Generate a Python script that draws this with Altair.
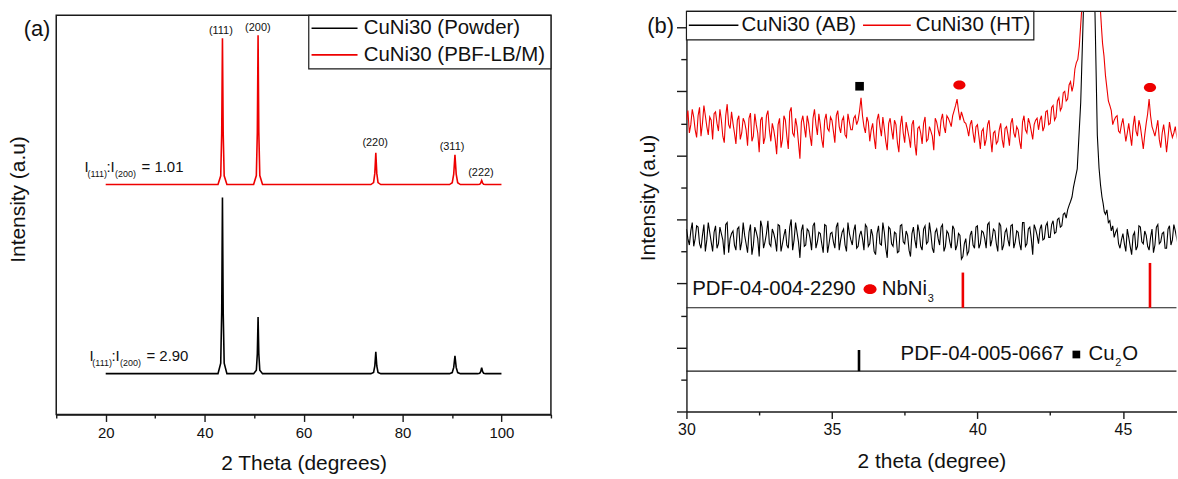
import altair as alt
import pandas as pd

FONT = "Liberation Sans"
BLACK = "#000000"
RED = "#ee0000"
FRAME = "#1a1a1a"
TXT = "#111111"

# ---------------- panel (a): full-range XRD patterns ----------------
a_series = ["CuNi30 (Powder)", "CuNi30 (PBF-LB/M)"]
a_colors = [BLACK, RED]
a_x = [20.0, 42.7, 43.25, 43.45, 43.6, 43.75, 43.95, 44.5,
       49.9, 50.45, 50.65, 50.8, 50.95, 51.15, 51.7,
       73.6, 74.15, 74.4, 74.6, 74.8, 75.05, 75.6,
       89.5, 90.05, 90.35, 90.6, 90.85, 91.15, 91.7,
       95.2, 95.6, 95.8, 96.0, 96.2, 96.4, 96.8, 100.0]
powder_y = [41, 41, 51.6, 103, 218, 103, 51.6, 41,
            41, 44.4, 61, 98, 61, 44.4, 41,
            41, 42.3, 48.7, 63, 48.7, 42.3, 41,
            41, 42.1, 47.3, 59, 47.3, 42.1, 41,
            41, 41.4, 43, 47, 43, 41.4, 41, 41]
pbf_y = [231, 231, 239.8, 282.5, 378, 282.5, 239.8, 231,
         231, 240, 283.5, 381, 283.5, 240, 231,
         231, 232.9, 242.2, 263, 242.2, 232.9, 231,
         231, 232.8, 241.5, 261, 241.5, 232.8, 231,
         231, 231.2, 232.4, 235, 232.4, 231.2, 231, 231]
a_peak_labels = ["(111)", "(200)", "(220)", "(311)", "(222)"]
a_peak_label_x = [43.28, 50.76, 74.47, 90.0, 95.86]
a_peak_label_y = [385, 388, 273, 269, 243]
a_ratio_values = ["= 1.01", "= 2.90"]
a_ratio_x = [15.7, 16.7]
a_ratio_y = [248.3, 59]
a_xticks = [10, 20, 30, 40, 50, 60, 70, 80, 90, 100, 110]

# ---------------- panel (b): zoom 30-47 deg ----------------
b_series = ["CuNi30 (AB)", "CuNi30 (HT)"]
b_colors = [BLACK, RED]
scan_step = 0.1
left_start = 30.0        # grid points 30.00, 30.10, ...
left_mid_start = 30.05   # grid points 30.05, 30.15, ...
right_start = 44.9
right_mid_start = 44.95

ab_left = [2.85, 2.60, 2.95, 2.70, 2.88, 2.55, 2.92, 2.68, 2.80, 2.50,
           2.90, 2.62, 2.78, 2.45, 2.95, 2.70, 2.82, 2.52, 2.88, 2.65,
           2.75, 2.48, 2.92, 2.60, 2.80, 2.42, 2.88, 2.65, 2.98, 2.58,
           2.78, 2.50, 2.90, 2.62, 2.85, 2.55, 3.00, 2.68, 2.80, 2.40,
           2.92, 2.60, 2.82, 2.52, 2.95, 2.65, 2.78, 2.48, 2.90, 2.62,
           2.80, 2.55, 2.95, 2.68, 2.85, 2.50, 2.78, 2.60, 2.92, 2.58,
           2.82, 2.52, 2.88, 2.62, 2.75, 2.45, 2.90, 2.60, 2.80, 2.40,
           2.85, 2.58, 2.78, 2.50, 2.92, 2.62, 2.75, 2.42, 2.88, 2.55,
           2.80, 2.52, 2.90, 2.65, 2.78, 2.48, 2.85, 2.60, 2.92, 2.58,
           2.78, 2.55, 2.85, 2.60, 2.75, 2.42, 2.70, 2.50, 2.82, 2.55,
           2.90, 2.62, 2.80, 2.55, 2.95, 2.68, 2.82, 2.50, 2.90, 2.60,
           2.85, 2.58, 2.92, 2.65, 2.80, 2.52, 2.95, 2.62, 2.88, 2.45,
           2.85]
ab_left_mid = [2.70, 2.82, 2.58, 2.90, 2.62, 2.75, 2.50, 2.95, 2.65, 2.80,
               2.55, 2.88, 2.68, 2.92, 2.48, 2.78, 2.60, 2.85, 2.52, 2.95,
               2.62, 2.80, 2.45, 2.88, 2.70, 2.98, 2.55, 2.78, 2.62, 2.85,
               2.68, 2.92, 2.50, 2.75, 2.60, 2.88, 2.52, 2.95, 2.65, 2.82,
               2.58, 2.85, 2.70, 2.90, 2.55, 2.80, 2.62, 2.92, 2.48, 2.78,
               2.65, 2.88, 2.52, 2.80, 2.60, 2.95, 2.68, 2.82, 2.55, 2.75,
               2.70, 2.92, 2.58, 2.85, 2.50, 2.78, 2.62, 2.95, 2.55, 2.88,
               2.62, 2.80, 2.48, 2.90, 2.65, 2.82, 2.52, 2.78, 2.68, 2.92,
               2.58, 2.85, 2.62, 2.95, 2.55, 2.80, 2.70, 2.88, 2.50, 2.82,
               2.65, 2.90, 2.52, 2.78, 2.38, 2.62, 2.45, 2.75, 2.60, 2.88,
               2.55, 2.82, 2.70, 2.92, 2.58, 2.85, 2.62, 2.95, 2.52, 2.80,
               2.68, 2.90, 2.55, 2.82, 2.62, 2.95, 2.58, 2.85, 2.70, 2.92]
ab_peak_x = [42.05, 42.1, 42.15, 42.2, 42.25, 42.3, 42.35, 42.4, 42.45, 42.5,
             42.55, 42.6, 42.65, 42.7, 42.75, 42.8, 42.85, 42.9, 42.95, 43.0,
             43.05, 43.1, 43.15, 43.2, 43.25, 43.3, 43.43, 43.55, 43.64, 43.75,
             43.85, 43.95, 44.04, 44.12, 44.18, 44.23, 44.28, 44.32, 44.36, 44.4,
             44.45, 44.5, 44.55, 44.6, 44.65, 44.7, 44.75, 44.8, 44.85]
ab_peak_y = [2.75, 2.62, 2.85, 2.92, 2.68, 2.70, 2.90, 2.95, 2.72, 2.72,
             2.92, 2.98, 2.78, 2.80, 3.00, 3.02, 2.88, 2.90, 3.08, 3.10,
             3.02, 3.15, 3.22, 3.28, 3.35, 3.50, 3.79, 4.83, 6.23, 8.5,
             10.0, 8.5, 6.23, 4.32, 3.80, 3.54, 3.35, 3.25, 3.12, 3.08,
             3.15, 2.95, 2.98, 2.82, 2.90, 2.72, 2.80, 2.85, 2.62]
ab_right = [2.55, 2.78, 2.50, 2.72, 2.45, 2.80, 2.58, 2.88, 2.62, 2.75,
            2.52, 2.85, 2.60, 2.92, 2.65, 2.80, 2.55, 2.90, 2.68, 2.82, 2.60]
ab_right_mid = [2.68, 2.62, 2.85, 2.58, 2.75, 2.52, 2.90, 2.65, 2.82, 2.58,
                2.72, 2.48, 2.88, 2.62, 2.78, 2.55, 2.85, 2.60, 2.92, 2.70]

ht_left = [4.55, 4.35, 4.72, 4.40, 4.62, 4.30, 4.78, 4.45, 4.60, 4.25,
           4.68, 4.38, 4.55, 4.20, 4.80, 4.42, 4.50, 4.18, 4.62, 4.35,
           4.52, 4.15, 4.66, 4.30, 4.48, 4.05, 4.60, 4.28, 4.70, 4.22,
           4.40, 4.02, 4.58, 4.25, 4.55, 4.10, 4.75, 4.30, 4.45, 3.95,
           4.62, 4.28, 4.50, 4.15, 4.72, 4.32, 4.48, 4.12, 4.65, 4.38,
           4.55, 4.20, 4.70, 4.35, 4.60, 4.28, 4.52, 4.40, 4.62, 4.55,
           4.90, 4.45, 4.60, 4.22, 4.50, 4.10, 4.65, 4.30, 4.42, 4.08,
           4.58, 4.25, 4.48, 4.05, 4.62, 4.20, 4.40, 4.12, 4.55, 4.00,
           4.45, 4.18, 4.60, 4.25, 4.38, 4.08, 4.52, 4.30, 4.65, 4.35,
           4.58, 4.45, 4.70, 4.88, 4.55, 4.60, 4.50, 4.30, 4.55, 4.20,
           4.48, 4.10, 4.42, 4.25, 4.55, 4.05, 4.38, 4.22, 4.50, 4.12,
           4.45, 4.15, 4.58, 4.28, 4.40, 4.10, 4.62, 4.35, 4.50, 4.25,
           4.55]
ht_left_mid = [4.70, 4.48, 4.60, 4.28, 4.75, 4.50, 4.62, 4.32, 4.55, 4.65,
               4.50, 4.72, 4.30, 4.62, 4.48, 4.68, 4.35, 4.55, 4.25, 4.58,
               4.40, 4.58, 4.22, 4.65, 4.35, 4.55, 4.18, 4.62, 4.40, 4.50,
               4.25, 4.48, 4.12, 4.62, 4.30, 4.68, 4.35, 4.58, 4.20, 4.52,
               4.45, 4.62, 4.30, 4.58, 4.48, 4.65, 4.25, 4.55, 4.42, 4.60,
               4.38, 4.62, 4.45, 4.55, 4.32, 4.65, 4.40, 4.58, 4.48, 4.70,
               4.62, 4.35, 4.52, 4.40, 4.28, 4.55, 4.45, 4.60, 4.22, 4.50,
               4.40, 4.55, 4.20, 4.45, 4.35, 4.52, 4.28, 4.48, 4.18, 4.42,
               4.35, 4.50, 4.22, 4.45, 4.30, 4.58, 4.40, 4.55, 4.45, 4.62,
               4.52, 4.62, 4.78, 4.70, 4.68, 4.52, 4.42, 4.48, 4.35, 4.45,
               4.30, 4.38, 4.15, 4.48, 4.28, 4.35, 4.18, 4.40, 4.25, 4.42,
               4.32, 4.50, 4.35, 4.45, 4.22, 4.52, 4.40, 4.58, 4.38, 4.48]
ht_peak_x = [42.05, 42.1, 42.15, 42.2, 42.25, 42.3, 42.35, 42.4, 42.45, 42.5,
             42.55, 42.6, 42.65, 42.7, 42.75, 42.8, 42.85, 42.9, 42.95, 43.0,
             43.05, 43.1, 43.15, 43.2, 43.25, 43.3, 43.35, 43.4, 43.45, 43.5,
             43.58, 43.7, 43.9, 44.1, 44.23, 44.27, 44.3, 44.35, 44.4, 44.45,
             44.5, 44.55, 44.6, 44.65, 44.7, 44.75, 44.8, 44.85]
ht_peak_y = [4.58, 4.40, 4.55, 4.62, 4.38, 4.45, 4.68, 4.70, 4.48, 4.50,
             4.75, 4.78, 4.55, 4.60, 4.85, 4.90, 4.70, 4.75, 4.98, 5.00,
             4.85, 4.88, 5.10, 5.15, 5.00, 5.10, 5.35, 5.45, 5.50, 5.70,
             6.25, 7.60, 9.50, 7.50, 6.25, 5.95, 5.75, 5.55, 5.25, 5.05,
             4.85, 4.78, 4.70, 4.48, 4.55, 4.60, 4.62, 4.38]
ht_right = [4.35, 4.58, 4.22, 4.50, 4.15, 4.62, 4.30, 4.45, 4.10, 4.50,
            4.88, 4.45, 4.30, 4.55, 4.12, 4.48, 4.05, 4.52, 4.28, 4.45, 4.20]
ht_right_mid = [4.48, 4.40, 4.35, 4.32, 4.45, 4.38, 4.55, 4.28, 4.32, 4.65,
                4.62, 4.38, 4.42, 4.25, 4.35, 4.30, 4.28, 4.38, 4.35, 4.30]

# reference patterns
nbni3_base = 1.62
nbni3_x = [39.5, 45.93]
nbni3_top = [2.17, 2.32]
cu2o_base = 0.63
cu2o_x = [35.93]
cu2o_top = [0.96]
# phase markers above the HT pattern
cu2o_mark_x = [35.95]
cu2o_mark_y = [5.08]
nbni3_mark_x = [39.38, 45.93]
nbni3_mark_y = [5.10, 5.06]
# reference labels
b_text = ["PDF-04-004-2290", "NbNi", "PDF-04-005-0667", "Cu", "O"]
b_text_x = [30.2, 36.71, 37.36, 43.82, 44.98]
b_text_y = [1.91, 1.91, 0.89, 0.89, 0.89]
b_sub = ["3", "2"]
b_sub_x = [38.29, 44.74]
b_sub_y = [1.76, 0.75]
b_dot_x = [36.31]
b_dot_y = [1.91]
b_sq_x = [43.40]
b_sq_y = [0.89]
b_xticks = [30, 32.5, 35, 37.5, 40, 42.5, 45]
b_yticks = [0, 0.5, 1, 1.5, 2, 2.5, 3, 3.5, 4, 4.5, 5, 5.5, 6]

ELLIPSE = "M-1,0A1,0.75,0,1,1,1,0A1,0.75,0,1,1,-1,0Z"
one = pd.DataFrame({"k": [0]})

# ================= panel (a) =================
W_A, H_A = 497, 405
FR_TOP = 4  # frame top sits 4px below the panel's top edge
df_a = pd.concat([
    pd.DataFrame({"x": a_x, "y": powder_y, "series": a_series[0]}),
    pd.DataFrame({"x": a_x, "y": pbf_y, "series": a_series[1]}),
])
axis_xa = alt.Axis(
    values=a_xticks,
    labelExpr="datum.value % 20 == 0 && datum.value >= 20 && datum.value <= 100 ? datum.label : ''",
    tickSize={"condition": {"test": "datum.value % 20 == 0", "value": 7}, "value": 3.5},
    tickColor=FRAME, tickWidth=1.4, domainColor=FRAME, domainWidth=1.4,
    labelFontSize=15, labelColor=TXT, labelPadding=4, labelFlush=False, labelOverlap=False,
    title="2 Theta (degrees)", titleFontSize=21, titleFontWeight="normal",
    titleColor=TXT, titlePadding=12, grid=False)
axis_ya = alt.Axis(
    labels=False, ticks=False, domain=False, grid=False,
    title="Intensity (a.u)", titleFontSize=21, titleFontWeight="normal", titleColor=TXT,
    titleX=-38.3, titleY=188.5, titleBaseline="middle", titleAlign="center")
sx_a = alt.Scale(domain=[10, 110], nice=False, zero=False)
sy_a = alt.Scale(domain=[0, H_A], nice=False, zero=False)


def xa(f):
    return alt.X(f, type="quantitative", scale=sx_a, axis=axis_xa)


def ya(f):
    return alt.Y(f, type="quantitative", scale=sy_a, axis=axis_ya)


frame_a = alt.Chart(one).mark_rect(fill="white", stroke=FRAME, strokeWidth=1.5).encode(
    x=alt.value(0), x2=alt.value(W_A), y=alt.value(FR_TOP), y2=alt.value(H_A))
lines_a = alt.Chart(df_a).mark_line(strokeWidth=1.6, clip=True).encode(
    x=xa("x"), y=ya("y"),
    color=alt.Color("series:N", scale=alt.Scale(domain=a_series, range=a_colors), legend=None),
)
df_pl = pd.DataFrame({"x": a_peak_label_x, "y": a_peak_label_y, "t": a_peak_labels})
peak_labels = alt.Chart(df_pl).mark_text(fontSize=11, color=TXT, baseline="middle", align="center").encode(
    x=xa("x"), y=ya("y"), text="t:N")

df_ratio = pd.DataFrame({"x": a_ratio_x, "y": a_ratio_y, "v": a_ratio_values})
ratio_layers = []
for txt, dx, dy, fs in [("I", 0, 0, 15), ("(111)", 3, 7, 9), (":I", 22.1, 0, 15), ("(200)", 30.8, 7, 9)]:
    ratio_layers.append(
        alt.Chart(df_ratio).mark_text(text=txt, dx=dx, dy=dy, fontSize=fs, align="left",
                                      baseline="middle", color=TXT).encode(x=xa("x"), y=ya("y")))
ratio_layers.append(
    alt.Chart(df_ratio).mark_text(dx=57.4, fontSize=15, align="left", baseline="middle", color=TXT)
    .encode(x=xa("x"), y=ya("y"), text="v:N"))

label_a = alt.Chart(one).mark_text(text="(a)", fontSize=22, align="center", baseline="middle", color=TXT).encode(
    x=alt.value(-19.3), y=alt.value(FR_TOP + 13.7))

leg_a = [alt.Chart(one).mark_rect(fill="white", stroke=FRAME, strokeWidth=1.2).encode(
    x=alt.value(253.7), x2=alt.value(W_A), y=alt.value(FR_TOP), y2=alt.value(FR_TOP + 53.7))]
for i, (name, col) in enumerate(zip(a_series, a_colors)):
    yy = FR_TOP + 13 + 26.7 * i
    leg_a.append(alt.Chart(one).mark_rule(color=col, strokeWidth=1.6).encode(
        x=alt.value(256.5), x2=alt.value(302.7), y=alt.value(yy)))
    leg_a.append(alt.Chart(one).mark_text(text=name, fontSize=20.5, align="left", baseline="middle", color=TXT).encode(
        x=alt.value(308.9), y=alt.value(yy)))

panel_a = alt.layer(frame_a, lines_a, peak_labels, *ratio_layers, label_a, *leg_a).properties(
    width=W_A, height=H_A, view=alt.ViewBackground(stroke="transparent", fill="white"))

# ================= panel (b) =================
W_B, H_B = 492.3, 402


def scan(values, start):
    return [round(start + i * scan_step, 2) for i in range(len(values))]


def pattern(left, left_mid, px, py, right, right_mid, name):
    xs = scan(left, left_start) + scan(left_mid, left_mid_start) + px + \
        scan(right, right_start) + scan(right_mid, right_mid_start)
    ys = left + left_mid + py + right + right_mid
    return pd.DataFrame({"x": xs, "y": ys, "series": name}).sort_values("x")


df_b = pd.concat([
    pattern(ab_left, ab_left_mid, ab_peak_x, ab_peak_y, ab_right, ab_right_mid, b_series[0]),
    pattern(ht_left, ht_left_mid, ht_peak_x, ht_peak_y, ht_right, ht_right_mid, b_series[1]),
])
axis_xb = alt.Axis(
    values=b_xticks, labelExpr="datum.value % 5 == 0 ? datum.label : ''",
    tickSize={"condition": {"test": "datum.value % 5 == 0", "value": 7}, "value": 3.5},
    tickColor=FRAME, tickWidth=1.4, domainColor=FRAME, domainWidth=1.4,
    labelFontSize=16, labelColor=TXT, labelPadding=3, labelFlush=False, labelOverlap=False,
    title="2 theta (degree)", titleFontSize=21, titleFontWeight="normal",
    titleColor=TXT, titlePadding=13, grid=False)
axis_yb = alt.Axis(
    values=b_yticks, labels=False,
    tickSize={"condition": {"test": "datum.value % 1 == 0", "value": 10}, "value": 5.7},
    tickColor=FRAME, tickWidth=1.4, domainColor=FRAME, domainWidth=1.4, grid=False,
    title="Intensity (a.u)", titleFontSize=21, titleFontWeight="normal", titleColor=TXT,
    titleX=-38, titleY=187, titleBaseline="middle", titleAlign="center")
sx_b = alt.Scale(domain=[30, 46.84], nice=False, zero=False)
sy_b = alt.Scale(domain=[0, 6.25], nice=False, zero=False)


def xb(f):
    return alt.X(f, type="quantitative", scale=sx_b, axis=axis_xb)


def yb(f):
    return alt.Y(f, type="quantitative", scale=sy_b, axis=axis_yb)


lines_b = alt.Chart(df_b).mark_line(strokeWidth=1.1, clip=True).encode(
    x=xb("x"), y=yb("y"),
    color=alt.Color("series:N", scale=alt.Scale(domain=b_series, range=b_colors), legend=None),
)
df_bases = pd.DataFrame({"y": [nbni3_base, cu2o_base]})
base_rules = alt.Chart(df_bases).mark_rule(color=FRAME, strokeWidth=1.1).encode(y=yb("y"))
df_nb = pd.DataFrame({"x": nbni3_x, "y": [nbni3_base] * len(nbni3_x), "t": nbni3_top})
df_cu = pd.DataFrame({"x": cu2o_x, "y": [cu2o_base] * len(cu2o_x), "t": cu2o_top})
sticks_nb = alt.Chart(df_nb).mark_rule(color=RED, strokeWidth=2.6).encode(x=xb("x"), y=yb("y"), y2="t")
sticks_cu = alt.Chart(df_cu).mark_rule(color=BLACK, strokeWidth=2.6).encode(x=xb("x"), y=yb("y"), y2="t")

marks_cu = alt.Chart(pd.DataFrame({"x": cu2o_mark_x, "y": cu2o_mark_y})).mark_point(
    shape="square", filled=True, size=75, color=BLACK, opacity=1).encode(x=xb("x"), y=yb("y"))
marks_nb = alt.Chart(pd.DataFrame({"x": nbni3_mark_x, "y": nbni3_mark_y})).mark_point(
    shape=ELLIPSE, filled=True, size=150, color=RED, opacity=1).encode(x=xb("x"), y=yb("y"))

df_bt = pd.DataFrame({"x": b_text_x, "y": b_text_y, "t": b_text})
texts_b = alt.Chart(df_bt).mark_text(fontSize=20.5, align="left", baseline="middle", color=TXT).encode(
    x=xb("x"), y=yb("y"), text="t:N")
df_bs = pd.DataFrame({"x": b_sub_x, "y": b_sub_y, "t": b_sub})
subs_b = alt.Chart(df_bs).mark_text(fontSize=11, align="left", baseline="middle", color=TXT).encode(
    x=xb("x"), y=yb("y"), text="t:N")
dot_b = alt.Chart(pd.DataFrame({"x": b_dot_x, "y": b_dot_y})).mark_point(
    shape=ELLIPSE, filled=True, size=170, color=RED, opacity=1).encode(x=xb("x"), y=yb("y"))
sq_b = alt.Chart(pd.DataFrame({"x": b_sq_x, "y": b_sq_y})).mark_point(
    shape="square", filled=True, size=60, color=BLACK, opacity=1).encode(x=xb("x"), y=yb("y"))

top_border = alt.Chart(one).mark_rule(color=FRAME, strokeWidth=1.4).encode(
    x=alt.value(0), x2=alt.value(W_B), y=alt.value(0))
label_b = alt.Chart(one).mark_text(text="(b)", fontSize=22, align="center", baseline="middle", color=TXT).encode(
    x=alt.value(-26), y=alt.value(15))

leg_b = [alt.Chart(one).mark_rect(fill="white", stroke=FRAME, strokeWidth=1.2).encode(
    x=alt.value(0), x2=alt.value(349), y=alt.value(0), y2=alt.value(28.7))]
for name, col, x0, x1, xt in zip(b_series, b_colors, [2.4, 177.4], [52.2, 225.4], [55.4, 230.4]):
    leg_b.append(alt.Chart(one).mark_rule(color=col, strokeWidth=1.6).encode(
        x=alt.value(x0), x2=alt.value(x1), y=alt.value(14)))
    leg_b.append(alt.Chart(one).mark_text(text=name, fontSize=20.5, align="left", baseline="middle", color=TXT).encode(
        x=alt.value(xt), y=alt.value(14)))

panel_b = alt.layer(base_rules, sticks_nb, sticks_cu, lines_b, marks_cu, marks_nb, texts_b, subs_b,
                    dot_b, sq_b, top_border, label_b, *leg_b).properties(
    width=W_B, height=H_B, view=alt.ViewBackground(stroke="transparent", fill="white"))

chart = alt.hconcat(panel_a, panel_b, spacing=84.15).properties(
    padding={"left": 6.5, "top": 8.3, "right": 0, "bottom": 0}
).configure(background="white", font=FONT)

chart.save("out.html", embed_options={"renderer": "svg", "actions": False})
